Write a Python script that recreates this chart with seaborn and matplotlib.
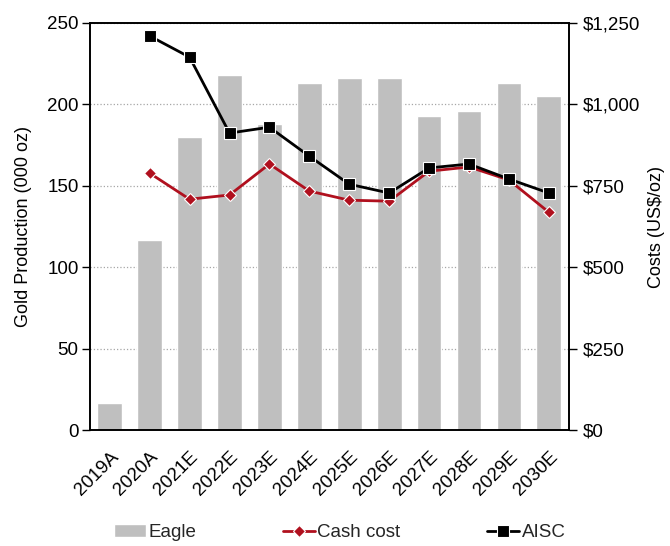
import matplotlib
matplotlib.use("Agg")
import matplotlib.pyplot as plt
import matplotlib.ticker as mticker
import pandas as pd
import seaborn as sns

years = ["2019A", "2020A", "2021E", "2022E", "2023E", "2024E",
         "2025E", "2026E", "2027E", "2028E", "2029E", "2030E"]
eagle_koz = [17, 117, 180, 218, 188, 213, 216, 216, 193, 196, 213, 205]
cash_cost = [None, 789, 709, 722, 817, 734, 706, 703, 795, 808, 768, 669]
aisc = [None, 1210, 1145, 912, 930, 841, 755, 728, 805, 817, 771, 728]

df = pd.DataFrame({"year": years, "eagle": eagle_koz,
                   "cash": cash_cost, "aisc": aisc})
df["cash"] = df["cash"].astype(float)
df["aisc"] = df["aisc"].astype(float)
df["x"] = range(len(df))

sns.set_theme(style="white")
plt.rcParams["font.family"] = ["Liberation Sans", "DejaVu Sans"]

FS = 13.5

fig, ax = plt.subplots(figsize=(6.7, 5.46), dpi=100)
fig.subplots_adjust(left=0.134, right=0.849, top=0.958, bottom=0.212)

sns.barplot(data=df, x="year", y="eagle", color="#BFBFBF", saturation=1,
            width=0.62, ax=ax, label="Eagle", legend=False, zorder=2)
ax.set_ylim(0, 250)
ax.set_xlim(-0.5, len(years) - 0.5)
ax.yaxis.set_major_locator(mticker.MultipleLocator(50))
ax.grid(axis="y", color="#A6A6A6", linestyle=":", linewidth=0.9, zorder=0)
ax.set_axisbelow(True)
ax.set_xlabel("")
ax.set_ylabel("Gold Production (000 oz)", fontsize=13, color="black",
              labelpad=11)
ax.tick_params(axis="y", labelsize=FS, colors="black", left=True,
               length=6, width=1, pad=2)
ax.tick_params(axis="x", labelsize=FS, colors="black", length=0, pad=13)
plt.setp(ax.get_xticklabels(), rotation=45, ha="right", rotation_mode="anchor")
for s in ax.spines.values():
    s.set_color("black")
    s.set_linewidth(1.2)

ax2 = ax.twinx()
ax2.plot(df["x"], df["cash"], color="#B0101E", linewidth=2, marker="D",
         markersize=6, markeredgecolor="white", markeredgewidth=0.8,
         label="Cash cost", zorder=3)
ax2.plot(df["x"], df["aisc"], color="black", linewidth=2, marker="s",
         markersize=8, markeredgecolor="white", markeredgewidth=0.8,
         label="AISC", zorder=4)
ax2.set_ylim(0, 1250)
ax2.yaxis.set_major_locator(mticker.MultipleLocator(250))
ax2.yaxis.set_major_formatter(mticker.FuncFormatter(lambda v, _: f"${v:,.0f}"))
ax2.set_ylabel("Costs (US$/oz)", fontsize=13, color="black", labelpad=6)
ax2.tick_params(axis="y", labelsize=FS, colors="black", right=True,
                length=6, width=1, pad=4)
ax2.grid(False)
for s in ax2.spines.values():
    s.set_color("black")
    s.set_linewidth(1.2)

h1, l1 = ax.get_legend_handles_labels()
h2, l2 = ax2.get_legend_handles_labels()
fig.legend(h1 + h2, l1 + l2, loc="lower center", ncol=3, frameon=False,
           bbox_to_anchor=(0.507, -0.022), fontsize=FS, columnspacing=4.6,
           handlelength=1.7, handletextpad=0.15)

fig.savefig("out.png", dpi=100)
